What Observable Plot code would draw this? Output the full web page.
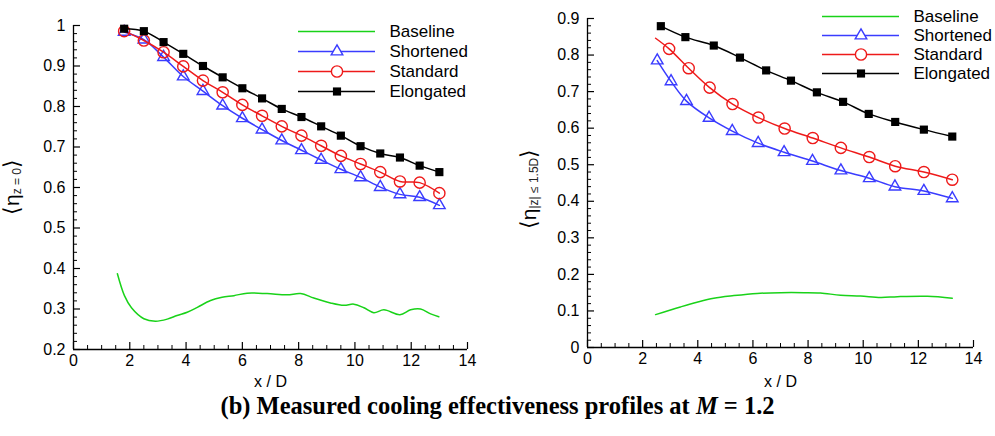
<!DOCTYPE html>
<html><head><meta charset="utf-8">
<script src="https://cdn.jsdelivr.net/npm/d3@7"></script>
<script src="https://cdn.jsdelivr.net/npm/@observablehq/plot@0.6"></script>
<style>
html,body{margin:0;padding:0;background:#fff}
body{width:995px;height:436px;position:relative;overflow:hidden;font-family:"Liberation Sans",Arial,sans-serif}
.abs{position:absolute}
.abs svg{overflow:visible;max-width:none}
#caption{position:absolute;left:0;width:995px;top:394px;line-height:24px;text-align:center;font:bold 24.5px/24px "Liberation Serif","Times New Roman",serif;color:#000;white-space:nowrap}
</style></head><body>
<div id="left" class="abs" style="left:0;top:0"></div>
<div id="right" class="abs" style="left:490px;top:0"></div>
<div id="legL" class="abs" style="left:298px;top:20px;width:200px"></div>
<div id="legR" class="abs" style="left:822px;top:6px;width:200px"></div>
<div id="caption">(b) Measured cooling effectiveness profiles at <i>M</i> = 1.2</div>
<script>
// ---------- data ----------
const seriesNames = ["Baseline", "Shortened", "Standard", "Elongated"];
const seriesColors = ["#19d219", "#3a3cff", "#ee1a1a", "#000000"];
const seriesSymbols = [null, "triangle", "circle", "square"];

const xTicks = [0, 2, 4, 6, 8, 10, 12, 14];
const leftYTicks = [0.2, 0.3, 0.4, 0.5, 0.6, 0.7, 0.8, 0.9, 1];
const rightYTicks = [0, 0.1, 0.2, 0.3, 0.4, 0.5, 0.6, 0.7, 0.8, 0.9];
const leftYLabels = ["0.2", "0.3", "0.4", "0.5", "0.6", "0.7", "0.8", "0.9", "1"];
const rightYLabels = ["0", "0.1", "0.2", "0.3", "0.4", "0.5", "0.6", "0.7", "0.8", "0.9"];

// left panel  <eta_{z=0}>
const leftMarkerX = [1.8, 2.5, 3.2, 3.9, 4.6, 5.3, 6.0, 6.7, 7.4, 8.1, 8.8, 9.5, 10.2, 10.9, 11.6, 12.3, 13.0];
const leftElongated = [0.992, 0.986, 0.959, 0.930, 0.900, 0.872, 0.845, 0.820, 0.794, 0.774, 0.751, 0.728, 0.702, 0.684, 0.674, 0.654, 0.638];
const leftStandard  = [0.986, 0.963, 0.934, 0.899, 0.864, 0.835, 0.804, 0.777, 0.751, 0.728, 0.703, 0.678, 0.658, 0.638, 0.615, 0.612, 0.586];
const leftShortened = [0.984, 0.965, 0.922, 0.874, 0.838, 0.802, 0.771, 0.743, 0.716, 0.692, 0.668, 0.645, 0.625, 0.601, 0.583, 0.576, 0.556];
const leftBaselineX = [1.56, 1.81, 2.06, 2.5, 2.91, 3.33, 3.68, 4.04, 4.4, 4.87, 5.28, 5.7, 6.17, 6.88, 7.59, 8.07, 8.54, 9.13, 9.61, 9.96, 10.32, 10.67, 11.03, 11.6, 11.98, 12.33, 12.69, 12.98];
const leftBaseline  = [0.387, 0.333, 0.303, 0.276, 0.270, 0.275, 0.284, 0.292, 0.304, 0.321, 0.329, 0.333, 0.339, 0.338, 0.335, 0.338, 0.327, 0.315, 0.309, 0.312, 0.303, 0.291, 0.298, 0.286, 0.298, 0.300, 0.288, 0.281];

// right panel  <eta_{|z|<=1.5D}>
const rightElongatedX = [2.66, 3.55, 4.58, 5.53, 6.48, 7.38, 8.32, 9.27, 10.20, 11.16, 12.20, 13.23];
const rightElongated  = [0.879, 0.849, 0.826, 0.793, 0.758, 0.730, 0.698, 0.672, 0.639, 0.617, 0.596, 0.577];
const rightStandardX  = [2.47, 2.96, 3.67, 4.43, 5.26, 6.20, 7.15, 8.17, 9.19, 10.22, 11.16, 12.20, 13.23];
const rightStandard   = [0.846, 0.817, 0.764, 0.711, 0.666, 0.629, 0.599, 0.573, 0.546, 0.521, 0.496, 0.480, 0.459];
const rightStandardMarked = [false, true, true, true, true, true, true, true, true, true, true, true, true];
const rightShortenedX = [2.53, 3.03, 3.59, 4.41, 5.25, 6.19, 7.13, 8.16, 9.19, 10.22, 11.15, 12.20, 13.23];
const rightShortened  = [0.785, 0.728, 0.674, 0.628, 0.592, 0.559, 0.534, 0.510, 0.484, 0.463, 0.440, 0.428, 0.408];
const rightBaselineX  = [2.47, 3.37, 3.97, 4.58, 5.31, 6.15, 7.0, 7.85, 8.45, 9.18, 9.9, 10.63, 11.24, 12.33, 13.23];
const rightBaseline   = [0.090, 0.111, 0.124, 0.135, 0.142, 0.148, 0.150, 0.150, 0.149, 0.143, 0.141, 0.137, 0.139, 0.140, 0.135];

// ---------- helpers ----------
const zip = (xs, ys, name, marked) => xs.map((x, i) => ({x, y: ys[i], name, marked: marked ? marked[i] : true}));
const range = (a, b, s) => d3.range(Math.round((b - a) / s) + 1).map(i => +(a + i * s).toFixed(4));

const FONT = "'Liberation Sans', Arial, Helvetica, sans-serif";

function panel({series, yDomain, yTicks, yLabels, yMinorStep, width, height, marginLeft, marginRight, marginTop, marginBottom, xTitleDy}) {
  const marks = [];
  const xMinor = range(0, 14, 0.5).filter(v => !xTicks.includes(v));
  const yMinor = range(yDomain[0], yDomain[1], yMinorStep).filter(v => !yTicks.some(t => Math.abs(t - v) < 1e-6));
  marks.push(Plot.ruleX([0], {stroke: "#000", strokeWidth: 1.3}));
  marks.push(Plot.ruleY([yDomain[0]], {stroke: "#000", strokeWidth: 1.3}));
  marks.push(Plot.axisX({ticks: xTicks, tickSize: -7, tickPadding: 12, label: null, fontSize: 16, tickFormat: d => String(d), strokeWidth: 1.2}));
  marks.push(Plot.axisY({ticks: yTicks, tickSize: -7, tickPadding: 15, label: null, fontSize: 16, tickFormat: d => yLabels[yTicks.indexOf(d)], strokeWidth: 1.2}));
  marks.push(Plot.axisX({ticks: xMinor, tickSize: -4, tickPadding: 0, label: null, tickFormat: () => "", strokeWidth: 1}));
  marks.push(Plot.axisY({ticks: yMinor, tickSize: -4, tickPadding: 0, label: null, tickFormat: () => "", strokeWidth: 1}));
  for (const s of series) {
    const k = seriesNames.indexOf(s.name);
    marks.push(Plot.line(s.data, {x: "x", y: "y", stroke: seriesColors[k], strokeWidth: 1.5, curve: "catmull-rom"}));
    const sym = seriesSymbols[k];
    if (sym) {
      const pts = s.data.filter(d => d.marked);
      if (sym === "square") marks.push(Plot.dot(pts, {x: "x", y: "y", symbol: "square", r: 4.6, fill: seriesColors[k], stroke: "none"}));
      else if (sym === "circle") marks.push(Plot.dot(pts, {x: "x", y: "y", symbol: "circle", r: 5.6, fill: "none", stroke: seriesColors[k], strokeWidth: 1.4}));
      else marks.push(Plot.dot(pts, {x: "x", y: "y", symbol: "triangle", r: 4.3, fill: "none", stroke: seriesColors[k], strokeWidth: 1.4}));
    }
  }
  marks.push(Plot.text(["x / D"], {frameAnchor: "bottom", dy: xTitleDy, fontSize: 16, fill: "#000"}));
  return Plot.plot({
    width, height, marginLeft, marginRight, marginTop, marginBottom,
    style: {background: "transparent", fontFamily: FONT, color: "#000", overflow: "visible"},
    x: {domain: [0, 14]},
    y: {domain: yDomain},
    marks
  });
}

function addYTitle(svg, x, y, sub) {
  const t = d3.select(svg).append("text")
    .attr("transform", `translate(${x},${y}) rotate(-90)`)
    .attr("text-anchor", "middle")
    .attr("dominant-baseline", "middle")
    .attr("font-family", FONT)
    .attr("fill", "#000");
  t.append("tspan").attr("font-size", 22).attr("font-family", "'DejaVu Sans', sans-serif").attr("font-weight", 200).text("\u27E8");
  t.append("tspan").attr("font-size", 21).text("\u03B7");
  t.append("tspan").attr("font-size", 12).attr("dy", 5).attr("fill", "#222").text(sub);
  t.append("tspan").attr("font-size", 22).attr("dy", -5).attr("font-family", "'DejaVu Sans', sans-serif").attr("font-weight", 200).text("\u27E9");
}

function legend(rowRange) {
  const rows = seriesNames.map((n, i) => ({name: n, color: seriesColors[i], symbol: seriesSymbols[i]}));
  const marks = [
    Plot.ruleY(rows, {y: "name", x1: 0, x2: 1, stroke: "color", strokeWidth: 1.5})
  ];
  const sq = rows.filter(r => r.symbol === "square");
  const ci = rows.filter(r => r.symbol === "circle");
  const tr = rows.filter(r => r.symbol === "triangle");
  marks.push(Plot.dot(sq, {y: "name", x: 0.5, symbol: "square", r: 4.6, fill: "color", stroke: "none"}));
  marks.push(Plot.dot(ci, {y: "name", x: 0.5, symbol: "circle", r: 5.6, fill: "white", stroke: "color", strokeWidth: 1.4}));
  marks.push(Plot.dot(tr, {y: "name", x: 0.5, symbol: "triangle", r: 4.3, fill: "white", stroke: "color", strokeWidth: 1.4}));
  marks.push(Plot.text(rows, {y: "name", x: 1, text: "name", dx: 14, textAnchor: "start", fontSize: 17, fill: "#000"}));
  return Plot.plot({
    width: 175, height: 90, margin: 0,
    style: {background: "transparent", fontFamily: FONT, overflow: "visible"},
    x: {domain: [0, 1], range: [0, 77], axis: null},
    y: {type: "point", domain: seriesNames, range: rowRange, padding: 0, axis: null},
    color: {type: "identity"},
    marks
  });
}

// ---------- build ----------
const leftSvg = panel({
  series: [
    {name: "Baseline", data: zip(leftBaselineX, leftBaseline, "Baseline")},
    {name: "Shortened", data: zip(leftMarkerX, leftShortened, "Shortened")},
    {name: "Standard", data: zip(leftMarkerX, leftStandard, "Standard")},
    {name: "Elongated", data: zip(leftMarkerX, leftElongated, "Elongated")}
  ],
  yDomain: [0.2, 1], yTicks: leftYTicks, yLabels: leftYLabels, yMinorStep: 0.02,
  width: 490, height: 400, marginLeft: 73, marginRight: 23, marginTop: 25, marginBottom: 51, xTitleDy: 37
});
addYTitle(leftSvg, 13, 187, "z = 0");
document.getElementById("left").append(leftSvg);

const rightSvg = panel({
  series: [
    {name: "Baseline", data: zip(rightBaselineX, rightBaseline, "Baseline")},
    {name: "Shortened", data: zip(rightShortenedX, rightShortened, "Shortened")},
    {name: "Standard", data: zip(rightStandardX, rightStandard, "Standard", rightStandardMarked)},
    {name: "Elongated", data: zip(rightElongatedX, rightElongated, "Elongated")}
  ],
  yDomain: [0, 0.9], yTicks: rightYTicks, yLabels: rightYLabels, yMinorStep: 0.02,
  width: 505, height: 400, marginLeft: 97, marginRight: 22, marginTop: 18, marginBottom: 53, xTitleDy: 39
});
addYTitle(rightSvg, 40, 189, "|z| \u2264 1.5D");
document.getElementById("right").append(rightSvg);

document.getElementById("legL").append(legend([10, 71]));
document.getElementById("legR").append(legend([10, 67]));
</script>
</body></html>
